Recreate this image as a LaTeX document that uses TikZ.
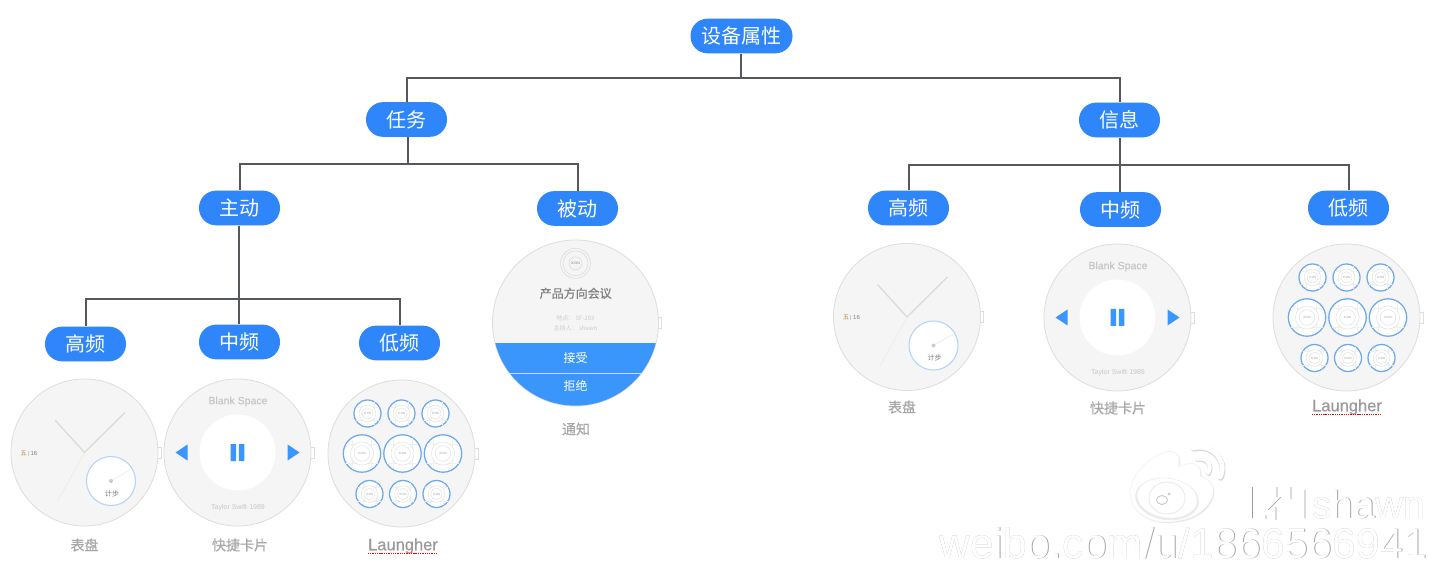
\documentclass[tikz,border=0pt]{standalone}
\usepackage{fontspec}
\setmainfont{Liberation Sans}
\newfontfamily\cjk{Noto Sans CJK SC}
\newfontfamily\cjkb[FakeBold=0.6]{Noto Sans CJK SC}
\newfontfamily\latb[FakeBold=0.5]{Liberation Sans}
\usetikzlibrary{calc}
\definecolor{pill}{HTML}{2F86FA}
\definecolor{wire}{HTML}{55585C}
\definecolor{face}{HTML}{F5F5F5}
\definecolor{rim}{HTML}{DDDDDD}
\definecolor{btn}{HTML}{3A96FB}
\definecolor{ring}{HTML}{6CA9EE}
\definecolor{cap}{HTML}{A8A8A8}
\newcommand{\px}[1]{\fontsize{\the\dimexpr#1pt*3/4\relax}{\the\dimexpr#1pt*3/4\relax}\selectfont}
\tikzset{
  x=0.75pt,y=-0.75pt,
  pillnode/.style={fill=pill,rounded corners=12.8pt,text=white,inner sep=0pt,minimum width=60.75pt,minimum height=26pt,font=\cjk\px{20}},
  conn/.style={draw=wire,line width=1.5pt},
  watchbody/.style={draw=rim,fill=face,line width=0.6pt},
  capnode/.style={text=cap,inner sep=0pt,font=\cjkb\px{14}},
  tiny/.style={inner sep=0pt},
}
\newcommand{\watchdisc}[1]{
  \draw[rim,fill=white,line width=0.5pt] (#1-0.5,-5.5) rectangle (#1+3,5.5);
  \draw[watchbody] (0,0) circle (#1);
}
\newcommand{\dialface}{
  \watchdisc{73.5}
  \draw[gray!28,line width=1pt] (-29.5,-32.5) -- (0,0) -- (40.5,-40);
  \draw[gray!13,line width=0.8pt] (0,0) -- (-27,49);
  \draw[fill=white,draw=ring!50,line width=0.8pt] (26.5,28.5) circle (24.5);
  \draw[gray!15,line width=0.5pt] (26.5,28.5) -- (45.5,17.5);
  \fill[gray!40] (26.5,28.5) circle (2);
  \node[tiny,text=gray,font=\cjk\px{7}] at (27.5,41) {计步};
  \node[tiny,text=orange!50!gray,font=\cjk\px{6}] at (-61,0.8) {五};
  \draw[gray!40,line width=0.3pt] (-56.5,-2) -- (-56.5,3);
  \node[tiny,text=gray,font=\px{6}] at (-50.5,0.8) {16};
}
\newcommand{\musicface}{
  \watchdisc{73.5}
  \fill[white] (0,0) circle (38);
  \node[tiny,text=gray!45,font=\latb\px{10.5}] at (0.5,-51) {Blank Space};
  \node[tiny,text=gray!45,font=\px{7}] at (0.5,55.5) {Taylor Swift·1989};
  \fill[btn] (-6.9,-8.5) rectangle (-1.4,8.5) (1.3,-8.5) rectangle (6.8,8.5);
  \fill[btn] (-62,0) -- (-50,-8) -- (-50,8) -- cycle;
  \fill[btn] (62,0) -- (50,-8) -- (50,8) -- cycle;
}
\newcommand{\appicon}[3]{
  \begin{scope}[shift={(#1,#2)}]
    \draw[fill=white,draw=ring,line width=0.95pt] (0,0) circle (#3);
    \draw[gray!12,line width=0.3pt] (-#3*0.85,-#3*0.5) -- (#3*0.85,-#3*0.5) (-#3*0.85,#3*0.5) -- (#3*0.85,#3*0.5)
       (-#3*0.5,-#3*0.85) -- (-#3*0.5,#3*0.85) (#3*0.5,-#3*0.85) -- (#3*0.5,#3*0.85);
    \draw[gray!22,fill=white,line width=0.4pt] (0,0) circle (#3*0.62);
    \draw[gray!22,line width=0.4pt] (0,0) circle (#3*0.42);
    \node[tiny,text=gray!70,font=\px{3}] at (0,0) {ICON};
  \end{scope}
}
\newcommand{\appsface}{
  \watchdisc{73.5}
  \appicon{-34}{-40}{13.5}\appicon{0}{-40}{13.5}\appicon{34}{-40}{13.5}
  \appicon{-39.5}{0}{18.7}\appicon{1}{0}{18.7}\appicon{41.5}{0}{18.7}
  \appicon{-32}{40.5}{13.5}\appicon{1.5}{40.5}{13.5}\appicon{35}{40.5}{13.5}
}
\newcommand{\noticeface}{
  \watchdisc{83}
  \begin{scope}
    \clip (0,0) circle (82.7);
    \fill[btn] (-90,19.7) rectangle (90,90);
    \draw[white!70!btn,line width=0.6pt] (-90,50) -- (90,50);
  \end{scope}
  \draw[gray!30,fill=face,line width=0.4pt] (0,-59.7) circle (15);
  \draw[gray!30,line width=0.4pt] (0,-59.7) circle (12.5);
  \draw[gray!30,line width=0.4pt] (0,-59.7) circle (6.5);
  \node[tiny,text=gray,font=\px{3.5}] at (0,-59.7) {ICON};
  \node[tiny,text=gray,font=\cjkb\px{12}] at (0.2,-29.7) {产品方向会议};
  \node[tiny,text=gray!40,font=\cjk\px{6}] at (0,-4.7) {地点： 5F-203};
  \node[tiny,text=gray!40,font=\cjk\px{6}] at (0,5.3) {主持人： shawn};
  \node[tiny,text=white,font=\cjk\px{12}] at (0.2,34.7) {接受};
  \node[tiny,text=white,font=\cjk\px{12}] at (0.2,62.7) {拒绝};
}
\newcommand{\laungher}[3]{
  \node[capnode,font=\latb\px{16.5},text=gray!80] (#1) at (#2,#3) {Laungher};
  \draw[red,line width=0.8pt,dash pattern=on 1pt off 0.7pt] ($(#1.base west)+(0,3)$) -- ($(#1.base east)+(0,3)$);
}
\begin{document}
\begin{tikzpicture}
\useasboundingbox (0,0) rectangle (1435,570);
\fill[white] (0,0) rectangle (1435,570);

\coordinate (j0) at (741,78);
\coordinate (j1) at (408,164);
\coordinate (j2) at (1120,165);
\coordinate (j3) at (239,299);

\begin{scope}[shift={(84.5,452.5)}]\dialface\end{scope}
\begin{scope}[shift={(237.5,452.5)}]\musicface\end{scope}
\begin{scope}[shift={(401.5,453.5)}]\appsface\end{scope}
\begin{scope}[shift={(575.5,323)}]\noticeface\end{scope}
\begin{scope}[shift={(907,317)}]\dialface\end{scope}
\begin{scope}[shift={(1117.5,317.5)}]\musicface\end{scope}
\begin{scope}[shift={(1346.5,317.5)}]\appsface\end{scope}

\node[capnode] (c1) at (84.5,545) {表盘};
\node[capnode] (c2) at (240,545) {快捷卡片};
\laungher{c3}{403}{546}
\node[capnode] (c4) at (576,429) {通知};
\node[capnode] (c5) at (902,407) {表盘};
\node[capnode] (c6) at (1118,408) {快捷卡片};
\laungher{c7}{1347}{407}

\node[pillnode,minimum width=76.5pt] (root) at (741.5,36) {设备属性};
\node[pillnode] (task) at (406.5,119.5) {任务};
\node[pillnode] (info) at (1119.5,120) {信息};
\node[pillnode] (active) at (239.5,208) {主动};
\node[pillnode] (passive) at (577.5,208.5) {被动};
\node[pillnode] (rhi) at (908.5,208) {高频};
\node[pillnode] (rmid) at (1120.5,209.5) {中频};
\node[pillnode] (rlo) at (1348.5,208) {低频};
\node[pillnode] (lhi) at (85.5,344) {高频};
\node[pillnode] (lmid) at (239.5,342) {中频};
\node[pillnode] (llo) at (399.5,343) {低频};

\begin{scope}[conn]
  \draw (root.south -| j0) -- (j0);
  \draw (j0) -| (task.north);
  \draw (j0) -| (info.north);
  \draw (task.south -| j1) -- (j1);
  \draw (j1) -| (active.north);
  \draw (j1) -| (passive.north);
  \draw (info.south -| j2) -- (j2);
  \draw (j2) -| (rhi.north);
  \draw (j2) -- (rmid.north -| j2);
  \draw (j2) -| (rlo.north);
  \draw (active.south -| j3) -- (j3);
  \draw (j3) -| (lhi.north);
  \draw (j3) -- (lmid.north -| j3);
  \draw (j3) -| (llo.north);
\end{scope}

% watermark logo
\begin{scope}[line join=round,line cap=round]
  \foreach \c/\d in {gray!28/0.9,white/0}{
    \begin{scope}[shift={(\d,\d)}]
      \path[fill=\c,draw=gray!10,line width=0.5pt] (1130,492) .. controls (1131,475) and (1148,458) .. (1163,453)
        .. controls (1175,448) and (1182,455) .. (1178,467)
        .. controls (1190,461) and (1203,462) .. (1200,476)
        .. controls (1212,479) and (1217,490) .. (1210,502)
        .. controls (1202,515) and (1186,522) .. (1166,522)
        .. controls (1148,522) and (1130,512) .. (1130,492) -- cycle;
    \end{scope}
  }
  \fill[gray!16,rotate around={-8:(1167,499)}] (1167,499) ellipse (32 and 21);
  \fill[white,rotate around={-8:(1167,499)}] (1167,498) ellipse (30 and 19.5);
  \draw[gray!18,fill=white,line width=0.6pt] (1167,498) ellipse (18 and 16);
  \draw[gray!45,line width=0.6pt] (1162,500) ellipse (5.5 and 4.5);
  \fill[gray!40] (1169,494) circle (1.5);
  \draw[gray!30,line width=4.4pt] (1193.8,448.8) .. controls (1212,444) and (1228,461) .. (1220.8,477.8);
  \draw[white,line width=3.6pt] (1193,448) .. controls (1212,443) and (1228,460) .. (1220,477);
  \draw[gray!30,line width=3.6pt] (1197.7,459.7) .. controls (1206,458) and (1213,465) .. (1208.7,473.7);
  \draw[white,line width=2.9pt] (1197,459) .. controls (1206,457) and (1213,464) .. (1208,473);
\end{scope}

\node[inner sep=0pt,anchor=base west,text=gray!70,font=\px{39}] (wm1s) at (1312.6,518.5) {shawn};
\node[inner sep=0pt,anchor=base west,text=white,font=\px{39}] (wm1) at (1312,518) {shawn};
\node[inner sep=0pt,anchor=base west,text=gray!70,font=\px{42.6}] (wm2s) at (939.6,558.5) {weibo.com/u/1866566941};
\node[inner sep=0pt,anchor=base west,text=white,font=\px{42.6}] (wm2) at (939,558) {weibo.com/u/1866566941};
\draw[gray!80,line width=0.4pt] (1252.5,487) -- (1252.5,518) (1277,487) -- (1277,497) (1291,487) -- (1291,499) (1305,490) -- (1305,518)
   (1266,519) -- (1266,515) (1276,507) -- (1276,520) (1268,510) -- (1281,497);
\end{tikzpicture}
\end{document}
